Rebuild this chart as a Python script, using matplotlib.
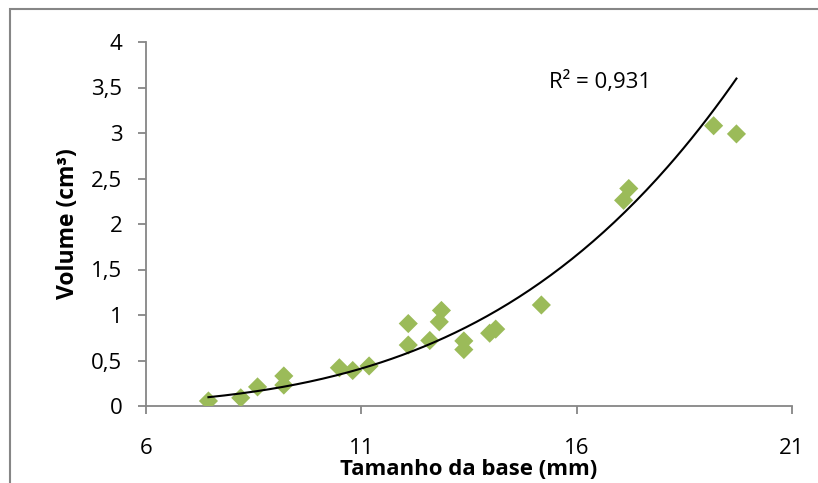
"""Scatter of base size vs volume with a power-law trendline."""

import matplotlib
matplotlib.use("Agg")
import matplotlib.pyplot as plt
import numpy as np
from matplotlib.patches import Rectangle
from matplotlib.ticker import FuncFormatter

plt.rcParams["font.family"] = ["Open Sans", "DejaVu Sans"]

# measured samples
base_mm = [7.45, 8.20, 8.59, 9.20, 9.20, 10.49, 10.80, 11.18, 12.09, 12.09, 12.59,
           12.81, 12.86, 13.38, 13.38, 13.98, 14.12, 15.18, 17.09, 17.21, 19.18, 19.71]
volume_cm3 = [0.055, 0.09, 0.21, 0.33, 0.23, 0.42, 0.39, 0.44, 0.906, 0.67, 0.72,
              0.925, 1.05, 0.715, 0.62, 0.80, 0.845, 1.11, 2.26, 2.39, 3.08, 2.99]
x_ticks = [6, 11, 16, 21]
y_ticks = [0, 0.5, 1, 1.5, 2, 2.5, 3, 3.5, 4]
r2_label = "R² = 0,931"

AXIS_GREY = "#868686"
GREEN = "#9BBB59"

x = np.array(base_mm)
y = np.array(volume_cm3)

# power trendline, fitted in log-log space
b, log_a = np.polyfit(np.log(x), np.log(y), 1)
xs = np.linspace(x.min(), x.max(), 200)
ys = np.exp(log_a) * xs ** b

fig = plt.figure(figsize=(8.18, 4.83), dpi=100)
ax = fig.add_axes([146 / 818, 1 - 406 / 483, (792 - 146) / 818, (406 - 42) / 483])

# outer chart-area frame (runs off the right and bottom edges)
fig.patches.append(Rectangle((10 / 818, -0.1), 1.2, 1 - 9.5 / 483 + 0.1,
                             transform=fig.transFigure, fill=False,
                             edgecolor=AXIS_GREY, linewidth=1.5))

ax.scatter(x, y, marker="D", s=95, color=GREEN, edgecolors="none", zorder=3)
ax.plot(xs, ys, color="black", linewidth=1.5, zorder=4)

ax.text(16.55, 3.56, r2_label, fontsize=16, ha="center", va="center")

ax.set_xlim(6, 21)
ax.set_ylim(0, 4)
ax.set_xticks(x_ticks)
ax.set_yticks(y_ticks)
comma = FuncFormatter(lambda v, _: f"{v:g}".replace(".", ","))
ax.xaxis.set_major_formatter(comma)
ax.yaxis.set_major_formatter(comma)

for side in ("top", "right"):
    ax.spines[side].set_visible(False)
for side in ("left", "bottom"):
    ax.spines[side].set_color(AXIS_GREY)
    ax.spines[side].set_linewidth(1.3)
ax.tick_params(axis="both", direction="out", length=6, width=1.3,
               color=AXIS_GREY, labelsize=16, labelcolor="black")
ax.tick_params(axis="y", pad=11)
ax.tick_params(axis="x", pad=17)

ax.set_xlabel("Tamanho da base (mm)", fontsize=16, fontweight="bold", labelpad=0)
ax.set_ylabel("Volume (cm³)", fontsize=16.5, fontweight="bold", labelpad=8)

fig.savefig("out.png", dpi=100)
